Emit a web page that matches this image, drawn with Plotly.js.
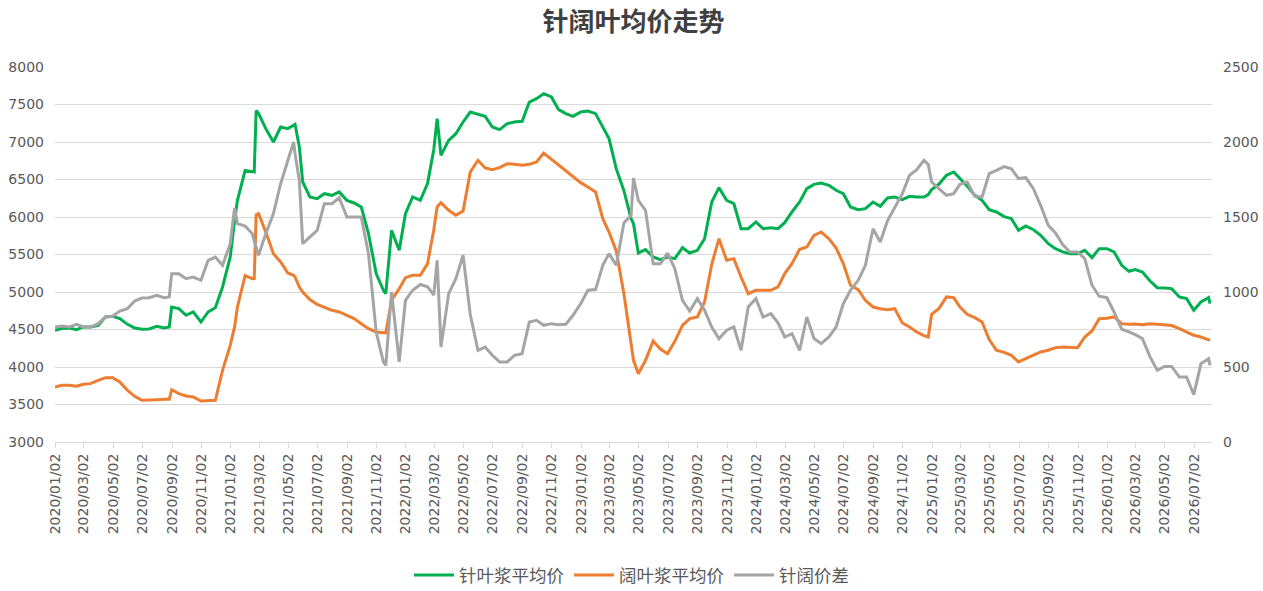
<!DOCTYPE html>
<html>
<head>
<meta charset="utf-8">
<script src="https://cdn.plot.ly/plotly-3.0.1.min.js"></script>
<style>
html,body{margin:0;padding:0;background:#fff;}
#chart{width:1263px;height:591px;}
</style>
</head>
<body>
<div id="chart"></div>
<script>
// Dates of the readings
const dates = [
"2020-01-02","2020-01-16","2020-02-01","2020-02-16","2020-03-01","2020-03-16","2020-04-01","2020-04-16","2020-05-01","2020-05-16","2020-06-01","2020-06-16","2020-07-01","2020-07-16","2020-08-01","2020-08-16","2020-08-27","2020-09-01","2020-09-16","2020-10-01","2020-10-16","2020-11-01","2020-11-16","2020-12-01","2020-12-16",
"2021-01-01","2021-01-10","2021-01-16","2021-02-01","2021-02-16","2021-02-20","2021-02-24","2021-03-01","2021-03-16","2021-04-01","2021-04-16","2021-05-01","2021-05-13","2021-05-16","2021-05-25","2021-06-01","2021-06-16","2021-07-01","2021-07-16","2021-08-01","2021-08-16","2021-09-01","2021-09-16","2021-10-01","2021-10-16","2021-11-01","2021-11-16","2021-11-21","2021-12-03","2021-12-19",
"2022-01-01","2022-01-16","2022-02-01","2022-02-16","2022-03-01","2022-03-08","2022-03-16","2022-04-01","2022-04-16","2022-05-01","2022-05-16","2022-06-01","2022-06-16","2022-07-01","2022-07-16","2022-08-01","2022-08-16","2022-09-01","2022-09-16","2022-10-01","2022-10-16","2022-11-01","2022-11-16","2022-12-01","2022-12-16",
"2023-01-01","2023-01-16","2023-02-01","2023-02-16","2023-03-01","2023-03-16","2023-04-01","2023-04-16","2023-04-21","2023-05-01","2023-05-16","2023-06-01","2023-06-16","2023-07-01","2023-07-16","2023-08-01","2023-08-16","2023-09-01","2023-09-16","2023-10-01","2023-10-16","2023-11-01","2023-11-16","2023-12-01","2023-12-16",
"2024-01-01","2024-01-16","2024-02-01","2024-02-16","2024-03-01","2024-03-16","2024-04-01","2024-04-16","2024-05-01","2024-05-16","2024-06-01","2024-06-16","2024-07-01","2024-07-16","2024-08-01","2024-08-16","2024-09-01","2024-09-16","2024-10-01","2024-10-16","2024-11-01","2024-11-16","2024-12-01","2024-12-16","2024-12-25",
"2025-01-01","2025-01-16","2025-02-01","2025-02-16","2025-03-01","2025-03-16","2025-04-01","2025-04-16","2025-05-01","2025-05-16","2025-06-01","2025-06-16","2025-07-01","2025-07-16","2025-08-01","2025-08-16","2025-09-01","2025-09-16","2025-10-01","2025-10-16","2025-11-01","2025-11-16","2025-12-01","2025-12-16",
"2026-01-01","2026-01-16","2026-02-01","2026-02-16","2026-03-01","2026-03-16","2026-04-01","2026-04-16","2026-05-01","2026-05-16","2026-06-01","2026-06-16","2026-07-01","2026-07-16","2026-08-01","2026-08-04"
];

// 针叶浆平均价 (left axis)
const softwood = [
4489,4512,4520,4498,4534,4534,4556,4667,4676,4645,4569,4520,4503,4507,4543,4520,4534,4800,4778,4689,4734,4600,4734,4791,5067,
5467,5950,6222,6622,6600,6600,7420,7378,7178,7000,7200,7178,7222,7236,6934,6467,6267,6245,6311,6289,6334,6222,6187,6133,5778,5245,5023,4978,5822,5556,
6045,6267,6222,6445,6900,7311,6823,7022,7111,7267,7400,7369,7342,7200,7165,7245,7267,7276,7533,7578,7645,7600,7431,7378,7342,
7400,7413,7378,7200,7045,6645,6350,5978,5911,5520,5565,5467,5431,5467,5445,5591,5520,5556,5711,6200,6391,6222,6178,5845,5845,
5934,5845,5858,5845,5925,6067,6200,6378,6435,6454,6422,6356,6311,6133,6098,6111,6200,6142,6254,6267,6231,6276,6267,6267,6300,
6365,6436,6556,6600,6511,6414,6289,6222,6098,6067,6005,5978,5822,5880,5831,5756,5645,5578,5534,5511,5511,5556,5458,5578,
5578,5534,5356,5276,5298,5267,5147,5058,5054,5045,4934,4912,4756,4867,4925,4845
];

// 阔叶浆平均价 (left axis)
const hardwood = [
3734,3756,3756,3743,3769,3778,3823,3858,3858,3800,3689,3609,3556,3556,3565,3569,3570,3698,3645,3614,3600,3547,3547,3556,3956,
4289,4534,4800,5220,5178,5180,6030,6045,5800,5511,5400,5254,5222,5200,5067,5000,4898,4836,4792,4756,4734,4689,4645,4578,4511,4467,4454,4454,4890,5045,
5191,5222,5222,5378,5830,6133,6191,6089,6023,6080,6600,6756,6654,6631,6658,6711,6702,6689,6702,6734,6853,6769,6689,6609,6534,
6458,6400,6334,5978,5800,5547,4978,4311,4089,3911,4089,4347,4240,4178,4343,4556,4645,4667,4867,5369,5711,5423,5445,5200,4978,
5023,5023,5023,5067,5245,5378,5569,5600,5756,5800,5711,5587,5378,5089,5031,4889,4800,4778,4765,4778,4587,4534,4467,4418,4400,
4703,4778,4934,4925,4800,4703,4658,4600,4365,4223,4196,4156,4067,4111,4156,4200,4223,4258,4267,4258,4258,4400,4480,4645,
4649,4667,4578,4569,4574,4565,4578,4569,4556,4552,4512,4467,4423,4400,4369,4356
];

// 针阔价差 (right axis)
const spread = [
767,774,767,785,767,767,789,833,838,873,889,940,960,962,978,962,967,1122,1122,1089,1100,1078,1211,1233,1178,
1322,1560,1456,1440,1389,1340,1300,1245,1389,1523,1722,1878,2000,1922,1744,1322,1367,1411,1589,1589,1629,1500,1500,1500,1256,734,534,511,1000,534,
944,1012,1050,1034,980,1211,633,989,1089,1245,850,611,633,578,534,534,578,589,800,811,778,789,782,785,845,
922,1012,1016,1178,1256,1178,1460,1511,1760,1611,1544,1189,1189,1260,1155,944,873,956,878,767,689,745,767,611,900,
956,833,856,794,700,722,611,833,690,656,700,767,922,1012,1078,1178,1422,1333,1474,1567,1656,1778,1816,1878,1850,
1733,1689,1645,1656,1718,1733,1638,1633,1789,1811,1836,1822,1756,1762,1689,1578,1444,1394,1316,1267,1267,1222,1045,972,
962,867,752,734,716,689,567,478,504,504,433,433,316,522,556,511
];

const seriesNames = ["针叶浆平均价","阔叶浆平均价","针阔价差"];
const seriesColors = ["#00B050","#ED7D31","#A5A5A5"];

const traces = [
  {x: dates, y: softwood, name: seriesNames[0], type: "scatter", mode: "lines",
   line: {color: seriesColors[0], width: 3}, yaxis: "y"},
  {x: dates, y: hardwood, name: seriesNames[1], type: "scatter", mode: "lines",
   line: {color: seriesColors[1], width: 3}, yaxis: "y"},
  {x: dates, y: spread, name: seriesNames[2], type: "scatter", mode: "lines",
   line: {color: seriesColors[2], width: 3}, yaxis: "y2"}
];

const tickFont = {family: "DejaVu Sans, Noto Sans, sans-serif", size: 14, color: "#595959"};

const layout = {
  width: 1263, height: 591,
  paper_bgcolor: "#ffffff", plot_bgcolor: "#ffffff",
  margin: {l: 55, r: 51, t: 67, b: 149, autoexpand: false},
  title: {
    text: "<b>针阔叶均价走势</b>",
    font: {family: "Noto Sans CJK SC, sans-serif", size: 26, color: "#404040"},
    x: 0.5, xanchor: "center", xref: "paper",
    y: 0.963, yanchor: "middle", yref: "container"
  },
  showlegend: true,
  legend: {
    orientation: "h", x: 0.5, xanchor: "center", xref: "container",
    y: 0.027, yanchor: "middle", yref: "container",
    font: {family: "Noto Sans CJK SC, sans-serif", size: 17.5, color: "#595959"},
    itemwidth: 40, tracegroupgap: 0, bgcolor: "rgba(0,0,0,0)"
  },
  xaxis: {
    type: "date", automargin: false,
    range: ["2020-01-02", "2026-08-08"],
    tick0: "2020-01-02", dtick: "M2",
    tickformat: "%Y/%m/%d",
    tickangle: -90,
    ticks: "outside", ticklen: 5, tickcolor: "#D9D9D9", tickwidth: 1,
    tickfont: tickFont,
    showgrid: false, zeroline: false,
    showline: true, linecolor: "#D9D9D9", linewidth: 1
  },
  yaxis: {
    range: [3000, 8000], dtick: 500, tick0: 3000, automargin: false,
    showgrid: true, gridcolor: "#D9D9D9", gridwidth: 1,
    zeroline: false, showline: false, ticks: "",
    tickfont: tickFont, ticklabelstandoff: 10
  },
  yaxis2: {
    overlaying: "y", side: "right", automargin: false,
    range: [0, 2500], dtick: 500, tick0: 0,
    showgrid: false, zeroline: false, showline: false, ticks: "",
    tickfont: tickFont, ticklabelstandoff: 10
  }
};

Plotly.newPlot("chart", traces, layout, {staticPlot: true, displayModeBar: false});
</script>
</body>
</html>
